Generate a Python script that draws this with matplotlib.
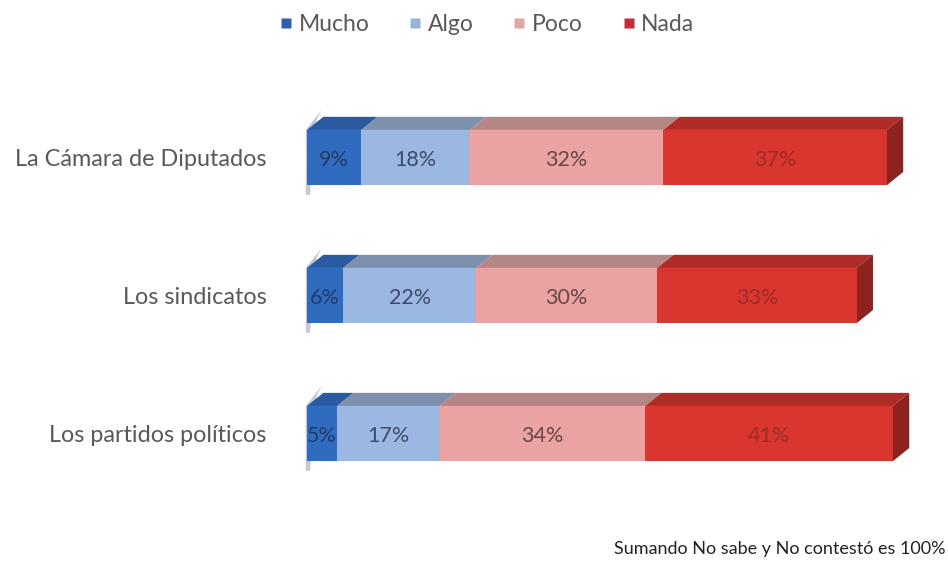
import numpy as np
import matplotlib.pyplot as plt
from matplotlib.patches import Polygon
from matplotlib.lines import Line2D

plt.rcParams['font.family'] = ['Lato', 'DejaVu Sans']

# Survey data: share of trust per institution (No sabe / No contestó left out)
categories = ['La Cámara de Diputados', 'Los sindicatos', 'Los partidos políticos']
levels = ['Mucho', 'Algo', 'Poco', 'Nada']
mucho = [9, 6, 5]
algo = [18, 22, 17]
poco = [32, 30, 34]
nada = [37, 33, 41]
footnote = 'Sumando No sabe y No contestó es 100%'

series = [mucho, algo, poco, nada]
front_colors = ['#2f6cc0', '#9bb8e2', '#eaa2a2', '#d8362e']
top_colors = ['#2a5aa0', '#7d90ad', '#b58686', '#b02c26']
side_color = '#8e221e'
label_colors = ['#243a66', '#3e4a68', '#6a4646', '#9c2c28']
legend_colors = ['#2d5fb0', '#98b4da', '#e2a4a4', '#c8283a']

fig = plt.figure(figsize=(9.48, 5.64), dpi=100)
ax = fig.add_axes([0.3238, 0.0957, 0.6372, 0.7624])

bar_h = 0.40
dx = 2.7     # depth offset along x (percent units)
dy = 0.095   # depth offset along y (category units)

ypos = np.arange(len(categories))
for i, y in enumerate(ypos):
    top = y - bar_h / 2
    bottom = y + bar_h / 2
    # faint back wall on the left
    ax.add_patch(Polygon([(-0.2, bottom + 0.07), (-0.2, top), (dx * 0.9, top - dy - 0.05),
                          (dx * 0.6, top - dy + 0.02), (0.5, bottom + 0.07)],
                         closed=True, facecolor='#c8c8d0', edgecolor='none', zorder=1,
                         clip_on=False))
    left = 0
    for k, vals in enumerate(series):
        v = vals[i]
        ax.barh(y, v, left=left, height=bar_h, color=front_colors[k],
                edgecolor='none', zorder=3)
        ax.add_patch(Polygon([(left, top), (left + v, top), (left + v + dx, top - dy),
                              (left + dx, top - dy)], closed=True,
                             facecolor=top_colors[k], edgecolor='none', zorder=2))
        ax.text(left + v / 2, y + 0.02, f'{v}%', ha='center', va='center',
                fontsize=15.5, color=label_colors[k], zorder=4)
        left += v
    # right side face of the last segment
    ax.add_patch(Polygon([(left, top), (left + dx, top - dy), (left + dx, bottom - dy),
                          (left, bottom)], closed=True,
                         facecolor=side_color, edgecolor='none', zorder=2))

ax.set_xlim(0, 100)
ax.set_ylim(2.554, -0.5616)
ax.set_xticks([])
ax.set_yticks(ypos)
ax.set_yticklabels(categories, fontsize=16.8, color='#595959')
ax.tick_params(axis='y', length=0, pad=29)
for s in ax.spines.values():
    s.set_visible(False)

handles = [Line2D([], [], marker='s', linestyle='none', markersize=7.5,
                  markerfacecolor=c, markeredgecolor='none') for c in legend_colors]
fig.legend(handles, levels, loc='upper center', bbox_to_anchor=(0.511, 1.012),
           ncol=4, frameon=False, fontsize=16.5, handletextpad=0.05,
           handlelength=1.0, columnspacing=1.5, labelcolor='#595959')

fig.text(0.997, 0.027, footnote, ha='right', va='center', fontsize=13,
         color='#222222')

fig.savefig('out.png', dpi=100)
